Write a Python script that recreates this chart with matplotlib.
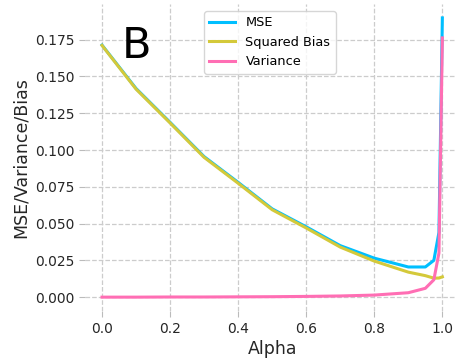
import numpy as np
import matplotlib.pyplot as plt

alpha = [0.0, 0.1, 0.2, 0.3, 0.4, 0.5, 0.6, 0.7, 0.8, 0.9, 0.95, 0.975, 0.99, 1.0]
mse = [0.1713, 0.1418, 0.1188, 0.0955, 0.0780, 0.0600, 0.0478, 0.0350, 0.0265, 0.0205, 0.0205, 0.0250, 0.0440, 0.1898]
bias = [0.1711, 0.1414, 0.1184, 0.0950, 0.0774, 0.0594, 0.0470, 0.0340, 0.0245, 0.0170, 0.0146, 0.0129, 0.0130, 0.0138]
variance = [0.0, 0.0, 0.0001, 0.0001, 0.0002, 0.0003, 0.0005, 0.0008, 0.0014, 0.0030, 0.0060, 0.0118, 0.0300, 0.1762]

fig = plt.figure(figsize=(4.56, 3.58), dpi=100)
ax = fig.add_axes([0.1864, 0.131, 0.821, 0.858])

ax.plot(alpha, mse, color='#00bfff', lw=2.2, label='MSE')
ax.plot(alpha, bias, color='#d4c93a', lw=2.2, label='Squared Bias')
ax.plot(alpha, variance, color='#ff6eb4', lw=2.2, label='Variance')

ax.set_xticks([0.0, 0.2, 0.4, 0.6, 0.8, 1.0])
ax.set_yticks([0.0, 0.025, 0.05, 0.075, 0.1, 0.125, 0.15, 0.175])
ax.grid(True, linestyle='--', color='#cccccc', lw=0.9)
for s in ax.spines.values():
    s.set_visible(False)
ax.tick_params(colors='#bbbbbb', labelcolor='#262626', labelsize=10, length=4)

ax.set_xlabel('Alpha', fontsize=12.5, color='#262626', labelpad=3)
ax.set_ylabel('MSE/Variance/Bias', fontsize=12.5, color='#262626')

ax.text(0.101, 0.171, 'B', fontsize=31, ha='center', va='center')

leg = ax.legend(loc='upper left', bbox_to_anchor=(0.301, 0.997), fontsize=9.3,
                framealpha=0.8, edgecolor='#cccccc')

fig.savefig('out.png', dpi=100)
